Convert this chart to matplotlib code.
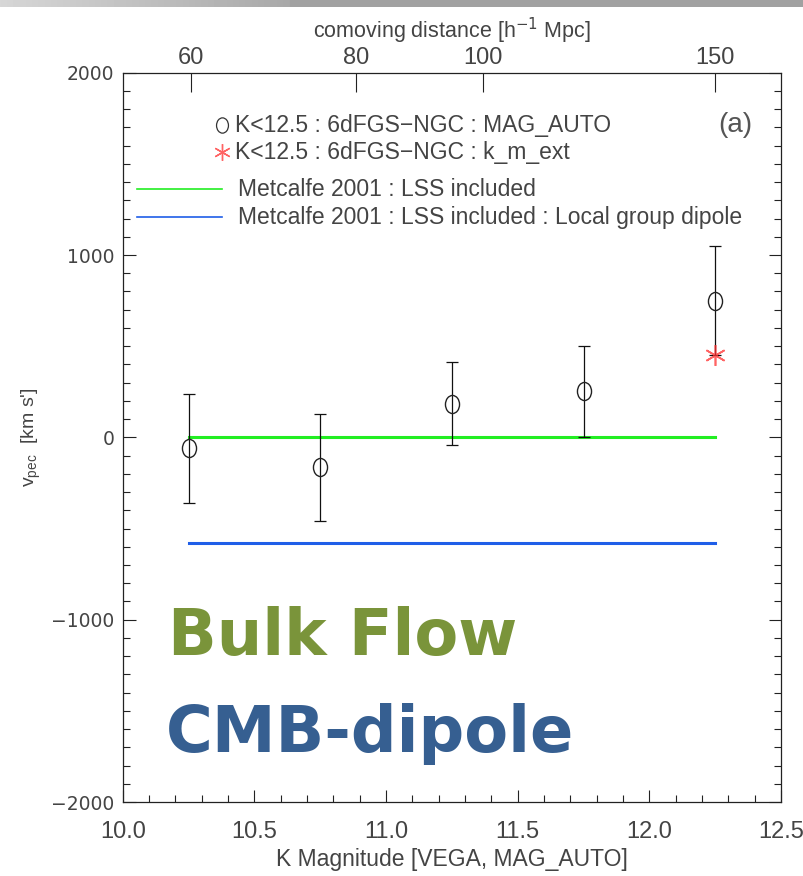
import matplotlib

matplotlib.use("Agg")
import matplotlib.pyplot as plt
from matplotlib.path import Path
import numpy as np

# binned peculiar velocities, K < 12.5 6dFGS-NGC
kmag = [10.25, 10.75, 11.25, 11.75, 12.25]
vpec_auto = [-60, -165, 185, 252, 750]
vpec_err = [298, 292, 229, 250, 297]

kmag_ext = [12.25]
vpec_ext = [450]

# Metcalfe 2001 predictions
metcalfe_kmag = [10.25, 12.25]
metcalfe_lss = [0, 0]
metcalfe_lg = [-580, -580]

dist_ticks = [60, 80, 100, 150]

TXT = "#444444"
THIN = ["Liberation Sans", "DejaVu Sans"]


def mag2dist(m):
    return 60.0 * 10 ** (0.2 * (np.asarray(m, dtype=float) - 10.26))


def dist2mag(d):
    d = np.clip(np.asarray(d, dtype=float), 1e-3, None)
    return 10.26 + 5.0 * np.log10(d / 60.0)


def ellipse_marker():
    circ = Path.unit_circle()
    verts = circ.vertices * np.array([0.78, 1.0])
    return Path(verts, circ.codes)


fig = plt.figure(figsize=(8.04, 8.76), dpi=100)

# grey bar along the top edge
bar = fig.add_axes([0, 1 - 7 / 876, 1, 7 / 876])
grad = np.concatenate([np.linspace(0.84, 0.66, 290), np.full(514, 0.63)])
bar.imshow(grad[None, :], cmap="gray", vmin=0, vmax=1, aspect="auto")
bar.set_axis_off()

ax = fig.add_axes([122.7 / 804, 1 - 802 / 876, 658.3 / 804, 729.3 / 876])

mk = ellipse_marker()
ax.errorbar(kmag, vpec_auto, yerr=vpec_err, fmt="none", ecolor="#111111",
            elinewidth=0.9, capsize=4, capthick=0.9, zorder=3)
ax.plot(kmag, vpec_auto, ls="none", marker=mk, ms=13, mfc="none",
        mec="#222222", mew=1.0, zorder=4)
ax.plot(kmag_ext, vpec_ext, ls="none", marker=(6, 2, 0), ms=15,
        mec="#ff3030", mew=1.2, alpha=0.75, zorder=5)

ax.plot(metcalfe_kmag, metcalfe_lss, color="#22ee22", lw=2.2, zorder=2)
ax.plot(metcalfe_kmag, metcalfe_lg, color="#1f5ee8", lw=2.2, zorder=2)

ax.set_xlim(10.0, 12.5)
ax.set_ylim(-2000, 2000)
ax.set_xticks(np.arange(10.0, 12.51, 0.5))
ax.set_xticks(np.arange(10.0, 12.51, 0.1), minor=True)
ax.set_yticks(np.arange(-2000, 2001, 1000))
ax.set_yticks(np.arange(-2000, 2001, 100), minor=True)
ax.set_xticklabels([f"{v:.1f}" for v in np.arange(10.0, 12.51, 0.5)],
                   family=THIN, fontsize=17, color=TXT)
ax.set_yticklabels([f"{v:d}".replace("-", "\u2212") for v in range(-2000, 2001, 1000)],
                   family="DejaVu Sans", fontsize=13.5, color=TXT)

ax.tick_params(which="both", direction="in", top=False, right=True,
               color="#222222", width=0.8)
ax.tick_params(which="major", length=9)
ax.tick_params(which="minor", length=5)
ax.tick_params(axis="x", pad=14)
ax.tick_params(axis="y", pad=6)
for sp in ax.spines.values():
    sp.set_color("#222222")
    sp.set_linewidth(0.9)

ax.set_xlabel("K Magnitude [VEGA, MAG_AUTO]", family=THIN, fontsize=16.5,
              color=TXT, labelpad=3)
ax.set_ylabel("v$_{\\mathregular{pec}}$  [km s']", family=THIN, fontsize=14,
              color=TXT, labelpad=6)

sec = ax.secondary_xaxis("top", functions=(mag2dist, dist2mag))
sec.set_xticks(dist_ticks)
sec.set_xticklabels([str(d) for d in dist_ticks], family=THIN, fontsize=17,
                    color=TXT)
sec.tick_params(which="major", direction="in", length=14, width=0.8,
                color="#222222", pad=3)
sec.tick_params(which="minor", length=0)
sec.spines["top"].set_visible(False)
sec.set_xlabel("comoving distance [h$^{-1}$ Mpc]", family=THIN, fontsize=15.5,
               color=TXT, labelpad=6)

# legend, drawn by hand
tr = ax.transAxes
ax.plot([0.151], [0.928], transform=tr, marker=mk, ms=11, mfc="none",
        mec="#333333", mew=0.9, clip_on=False)
ax.plot([0.151], [0.891], transform=tr, marker=(6, 2, 0), ms=12,
        mec="#ff3030", mew=1.0, alpha=0.75, clip_on=False)
ax.plot([0.022, 0.151], [0.840, 0.840], transform=tr, color="#22ee22", lw=1.2)
ax.plot([0.022, 0.151], [0.802, 0.802], transform=tr, color="#1f5ee8", lw=1.2)
leg_txt = [
    (0.170, 0.928, "K<12.5 : 6dFGS\u2212NGC : MAG_AUTO"),
    (0.170, 0.891, "K<12.5 : 6dFGS\u2212NGC : k_m_ext"),
    (0.175, 0.840, "Metcalfe 2001 : LSS included"),
    (0.175, 0.802, "Metcalfe 2001 : LSS included : Local group dipole"),
]
for x, y, s in leg_txt:
    ax.text(x, y, s, transform=tr, family=THIN, fontsize=16.5, color=TXT,
            va="center", ha="left")
ax.text(0.930, 0.928, "(a)", transform=tr, family=THIN, fontsize=20,
        color="#555555", va="center", ha="center")

ax.text(0.069, 0.2016, "Bulk Flow", transform=tr, family="DejaVu Sans",
        fontweight="bold", fontsize=46, color="#7a943a", va="baseline")
ax.text(0.066, 0.0686, "CMB-dipole", transform=tr, family="DejaVu Sans",
        fontweight="bold", fontsize=46, color="#365f91", va="baseline")

fig.savefig("out.png", dpi=100)
